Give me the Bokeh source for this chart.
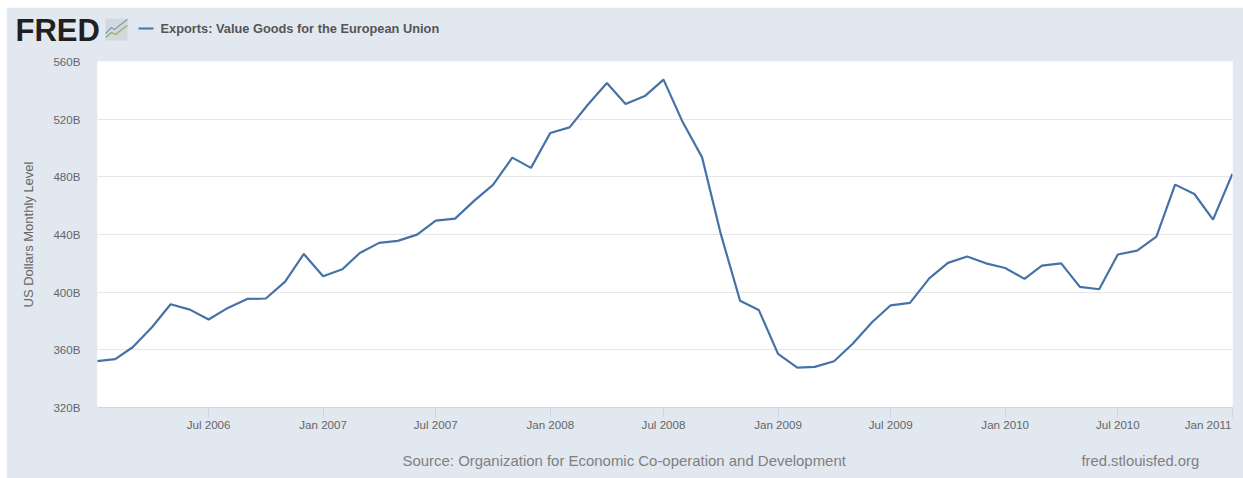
from bokeh.plotting import figure
from bokeh.embed import file_html
from bokeh.resources import INLINE
from bokeh.core.properties import value
from bokeh.layouts import column, row
from bokeh.models import ColumnDataSource, FixedTicker, Range1d
from datetime import datetime
import pandas as pd

series_name = "Exports: Value Goods for the European Union"
y_label = "US Dollars Monthly Level"
source_text = "Source: Organization for Economic Co-operation and Development"
site_text = "fred.stlouisfed.org"
logo_text = "FRED"

months = pd.date_range("2006-01-01", periods=61, freq="MS")
values = [352.1, 353.5, 361.8, 375.7, 391.6, 387.9, 381.0, 389.1, 395.3, 395.6,
          407.3, 426.5, 411.0, 415.9, 427.2, 434.2, 435.6, 439.9, 449.6, 451.0,
          463.5, 474.4, 493.3, 486.2, 510.4, 514.3, 529.8, 545.1, 530.5, 536.0,
          547.4, 517.8, 493.5, 440.4, 394.0, 387.7, 357.2, 347.7, 348.2, 352.1,
          364.2, 379.1, 390.9, 392.6, 409.6, 420.3, 424.7, 420.0, 416.8, 409.2,
          418.4, 420.0, 403.7, 402.0, 426.1, 428.8, 438.5, 474.6, 468.1, 450.3,
          482.0]
y_ticks = [320, 360, 400, 440, 480, 520, 560]
y_tick_labels = ["320B", "360B", "400B", "440B", "480B", "520B", "560B"]
x_tick_dates = ["2006-07-01", "2007-01-01", "2007-07-01", "2008-01-01", "2008-07-01",
                "2009-01-01", "2009-07-01", "2010-01-01", "2010-07-01", "2011-01-01"]
x_tick_labels = ["Jul 2006", "Jan 2007", "Jul 2007", "Jan 2008", "Jul 2008",
                 "Jan 2009", "Jul 2009", "Jan 2010", "Jul 2010", "Jan 2011"]

BAND = "#E1E8F0"
LINE = "#4572A7"
FONT = "Liberation Sans"
OX, OY = 6, 7
W, H = 1237, 471
FL, FR, FT, FB = 97, 1232, 61, 407
TICK_SIZE = "11.6px"

x_start = datetime(2006, 1, 3, 12)
x_end = datetime(2011, 1, 1, 6)

p = figure(width=W, height=H, output_backend="svg", toolbar_location=None,
           x_axis_type="datetime", x_range=Range1d(x_start, x_end),
           y_range=Range1d(320, 560),
           min_border_left=FL - OX, min_border_right=OX + W - FR,
           min_border_top=FT - OY, min_border_bottom=OY + H - FB)
p.styles = {"margin": f"{OY}px 0 0 {OX}px"}
p.background_fill_color = "white"
p.border_fill_color = BAND
p.outline_line_color = None

p.xgrid.visible = False
p.ygrid.grid_line_color = "#E6E6E6"
p.ygrid.grid_line_width = 1
p.ygrid.ticker = FixedTicker(ticks=y_ticks)

ya = p.yaxis[0]
ya.ticker = FixedTicker(ticks=y_ticks)
ya.major_label_overrides = dict(zip(y_ticks, y_tick_labels))
ya.axis_line_color = None
ya.major_tick_line_color = None
ya.minor_tick_line_color = None
ya.major_tick_out = 0
ya.major_tick_in = 0
ya.major_label_standoff = 17
ya.major_label_text_font = FONT
ya.major_label_text_font_size = TICK_SIZE
ya.major_label_text_color = "#666666"

xa = p.xaxis[0]
tick_ms = [pd.Timestamp(d).value / 1e6 for d in x_tick_dates]
xa.ticker = FixedTicker(ticks=tick_ms)
over = dict(zip(tick_ms, x_tick_labels))
over[tick_ms[-1]] = ""
xa.major_label_overrides = over
xa.axis_line_color = "#CCD6EB"
xa.major_tick_line_color = "#CCD6EB"
xa.minor_tick_line_color = None
xa.major_tick_out = 10
xa.major_tick_in = 0
xa.major_label_standoff = 0
xa.major_label_orientation = "horizontal"
xa.major_label_text_font = FONT
xa.major_label_text_font_size = TICK_SIZE
xa.major_label_text_color = "#666666"

src = ColumnDataSource(dict(x=months, y=values))
p.line("x", "y", source=src, line_color=LINE, line_width=2.2)

# Transparent sheet over the whole chart, for the texts outside the plot frame.
# Its scales are page pixels.
o = figure(width=W, height=H, output_backend="svg", toolbar_location=None,
           x_range=Range1d(OX, OX + W), y_range=Range1d(OY + H, OY),
           min_border=0, x_axis_location=None, y_axis_location=None)
o.background_fill_color = None
o.border_fill_color = None
o.outline_line_color = None
o.grid.visible = False


def txt(s, x, y, size, color, style="normal", align="left", angle=0):
    o.text([x], [y], text=[s], text_font=value(FONT), text_font_size=value(size),
           text_color=color, text_font_style=style, text_align=align,
           text_baseline="middle", angle=angle)


txt(x_tick_labels[-1], 1231, 424, TICK_SIZE, "#666666", align="right")
txt(y_label, 28, 234, "13px", "#666666", align="center", angle=1.5708)
txt(series_name, 160, 28, "12.8px", "#555555", style="bold")
txt(source_text, 402, 460, "14.95px", "#808080")
txt(site_text, 1081, 460, "14.8px", "#808080")
txt(logo_text, 15, 30, "31px", "#231F20", style="bold")

# legend key
o.line([138, 153], [28, 28], line_color=LINE, line_width=2)

# logo icon
o.quad(left=[105], right=[127], top=[18], bottom=[40], fill_color="#D4D8DA", line_color=None)
o.line([105, 111, 114, 119, 127], [33, 27, 29, 25, 19], line_color="#7A9CC0", line_width=1.2)
o.line([105, 111, 115, 120, 127], [37, 32, 34, 30, 25], line_color="#8CB369", line_width=1.3)

sheet = row(o)
sheet.styles = {"position": "absolute", "left": f"{OX}px", "top": f"{OY}px"}

open("out.html", "w").write(file_html(column(p, sheet, spacing=0), INLINE))
